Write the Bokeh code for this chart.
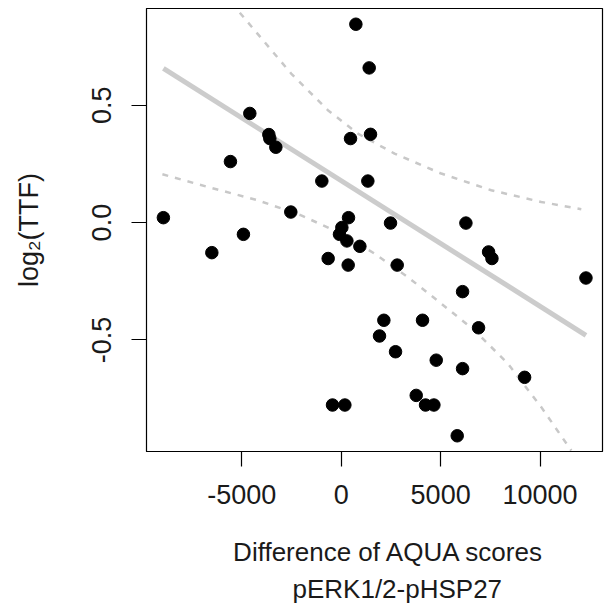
import numpy as np
from bokeh.plotting import figure
from bokeh.models import FixedTicker, Title, Range1d
from bokeh.embed import file_html
from bokeh.resources import INLINE

# --- data ---
aqua_diff = [739, 1408, -4593, -3637, -3587, -3285, 470, 1475, -5567, -972,
             1341, -2532, -8938, 369, 2481, 6271, -4914, -6502, 34, -85,
             287, 940, -654, 352, 2817, 7411, 7580, 12306, 6103, 2146,
             4090, 6907, 1927, 2733, 4779, 6103, 9222, -436, 185, 3773,
             4241, 4661, 5834]
log2_ttf = [0.845, 0.659, 0.465, 0.375, 0.358, 0.321, 0.358, 0.376, 0.260, 0.177,
            0.177, 0.045, 0.021, 0.021, -0.002, -0.002, -0.050, -0.128, -0.021, -0.050,
            -0.078, -0.101, -0.153, -0.181, -0.181, -0.125, -0.153, -0.236, -0.294, -0.416,
            -0.416, -0.448, -0.483, -0.550, -0.586, -0.622, -0.659, -0.777, -0.777, -0.736,
            -0.777, -0.777, -0.908]

fit_x = [-8938, 12306]
fit_y = [0.657, -0.480]

upper_x = [-5097, -2515, -669, 840, 2683, 5030, 7545, 10060, 12072]
upper_y = [0.894, 0.635, 0.479, 0.379, 0.294, 0.209, 0.138, 0.088, 0.057]

lower_x = [-8988, -6706, -4191, -2012, 0, 1677, 3354, 5030, 6706, 8383, 10060, 11569]
lower_y = [0.206, 0.152, 0.095, 0.031, -0.047, -0.132, -0.232, -0.345, -0.459, -0.601, -0.786, -0.971]

x_ticks = [-5000, 0, 5000, 10000]
x_tick_labels = ["-5000", "0", "5000", "10000"]
y_ticks = [-0.5, 0.0, 0.5]
y_tick_labels = ["-0.5", "0.0", "0.5"]

x_title_lines = ["Difference of AQUA scores", "pERK1/2-pHSP27"]
y_title = "log\u2082(TTF)"

FONT = "Liberation Sans"
TXT = "#1a1a1a"
FS = "27px"
FS_T = "26px"

p = figure(width=609, height=610, output_backend="svg", toolbar_location=None,
           x_range=Range1d(-9787, 13138), y_range=Range1d(-0.975, 0.912),
           min_border_left=146, min_border_right=7, min_border_top=8,
           min_border_bottom=159)
p.background_fill_color = "white"
p.border_fill_color = "white"
p.grid.visible = False
p.outline_line_color = "black"
p.outline_line_width = 1.2

for ax, ticks, labels in ((p.xaxis[0], x_ticks, x_tick_labels), (p.yaxis[0], y_ticks, y_tick_labels)):
    ax.ticker = FixedTicker(ticks=ticks)
    ax.major_label_overrides = {t: l for t, l in zip(ticks, labels)}
    ax.major_tick_out = 15
    ax.major_tick_in = 0
    ax.minor_tick_out = 0
    ax.minor_tick_in = 0
    ax.axis_line_color = "black"
    ax.major_tick_line_color = "black"
    ax.major_tick_line_width = 1.2
    ax.major_label_text_font = FONT
    ax.major_label_text_font_size = FS
    ax.major_label_text_color = TXT
    ax.axis_label_text_font = FONT
    ax.axis_label_text_font_style = "normal"
    ax.axis_label_text_color = TXT

p.xaxis.major_label_standoff = 18
p.xaxis.axis_label = "\u00a0" * 4 + x_title_lines[0]
p.xaxis.axis_label_text_font_size = FS_T
p.xaxis.axis_label_standoff = 30

p.yaxis.major_label_standoff = 20
p.yaxis.major_label_orientation = "vertical"
p.yaxis.axis_label = y_title
p.yaxis.axis_label_text_font_size = FS
p.yaxis.axis_label_standoff = 46

p.line(upper_x, upper_y, line_color="#c8c8c8", line_width=2.5, line_dash="6 7")
p.line(lower_x, lower_y, line_color="#c8c8c8", line_width=2.5, line_dash="6 7")
p.line(fit_x, fit_y, line_color="#cccccc", line_width=5)
p.scatter(aqua_diff, log2_ttf, size=12.5, color="black")

p.add_layout(Title(text=x_title_lines[1], align="left", offset=146, standoff=4,
                   text_font=FONT, text_font_size=FS_T, text_font_style="normal",
                   text_color=TXT), "below")

open("out.html", "w").write(file_html(p, INLINE))
